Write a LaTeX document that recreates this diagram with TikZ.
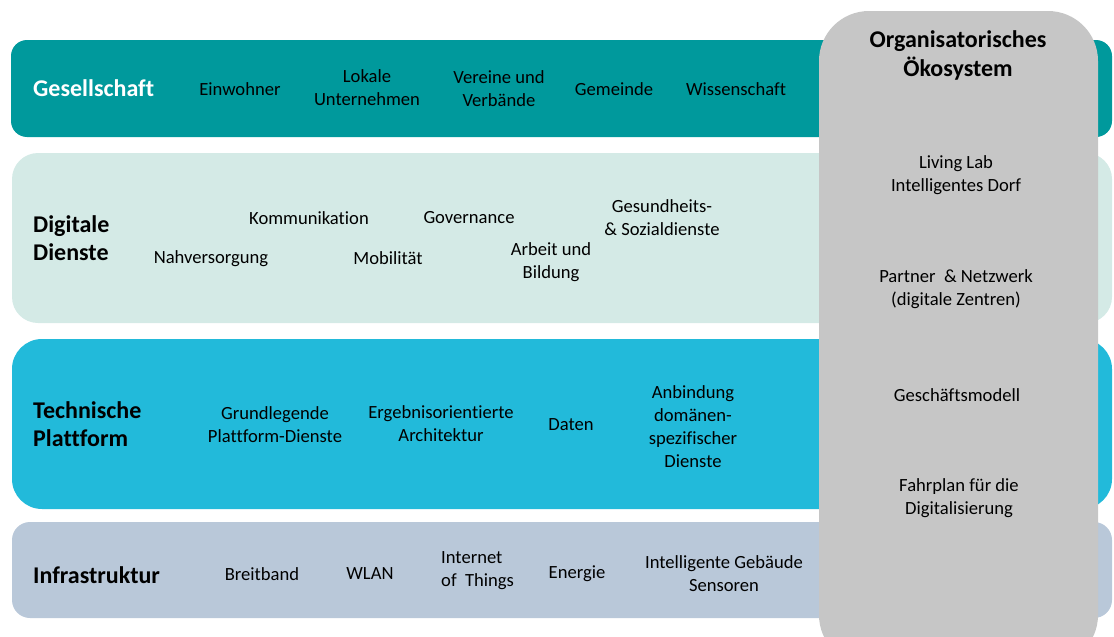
\documentclass[tikz,border=0pt]{standalone}
\usepackage{fontspec}
\setmainfont[Ligatures=NoCommon]{Carlito}
\definecolor{gesC}{HTML}{00999C}
\definecolor{digC}{HTML}{D4EAE6}
\definecolor{tecC}{HTML}{22BADA}
\definecolor{infC}{HTML}{B9C8D9}
\definecolor{orgC}{HTML}{C6C6C6}
\begin{document}
\begin{tikzpicture}[x=1pt,y=-1pt,
  band/.style={rounded corners=#1},
  item/.style={inner sep=0pt,align=center,font=\fontsize{18.6}{23}\selectfont,text=black},
  head/.style={inner sep=0pt,anchor=west,align=left,font=\fontsize{24}{28.5}\selectfont\bfseries},
]
\useasboundingbox (0,0) rectangle (1114,637);
\clip (0,0) rectangle (1114,637);
% bands
\fill[gesC,band=16] (11,40) rectangle (1112,137);
\fill[digC,band=26] (12,153) rectangle (1112,323);
\fill[tecC,band=30] (12,339) rectangle (1112,509);
\fill[infC,band=18] (12,522) rectangle (1112,618);
% organisational panel
\fill[orgC,rounded corners=50] (819,11) rectangle (1098,665);

% Gesellschaft
\node[head,text=white] (h1) at (33,88) {Gesellschaft};
\node[item] (g1) at (240,89) {Einwohner};
\node[item] (g2) at (367,88) {Lokale\\Unternehmen};
\node[item] (g3) at (499,88.5) {Vereine und\\Verbände};
\node[item] (g4) at (614,89) {Gemeinde};
\node[item] (g5) at (736,89) {Wissenschaft};

% Digitale Dienste
\node[head] (h2) at (33,238) {Digitale\\Dienste};
\node[item] (d1) at (309,218) {Kommunikation};
\node[item] (d2) at (469,218) {Governance};
\node[item] (d3) at (662,217.5) {Gesundheits-\\\&\ Sozialdienste};
\node[item] (d4) at (211,258.5) {Nahversorgung};
\node[item] (d5) at (388,258) {Mobilität};
\node[item] (d6) at (551,262.5) {Arbeit und\\Bildung};

% Technische Plattform
\node[head] (h3) at (33,424) {Technische\\Plattform};
\node[item] (t1) at (275,424.5) {Grundlegende\\Plattform-Dienste};
\node[item] (t2) at (441,423.5) {Ergebnisorientierte\\Architektur};
\node[item] (t3) at (571,425) {Daten};
\node[item] (t4) at (693,426.5) {Anbindung\\domänen-\\spezifischer\\Dienste};

% Infrastruktur
\node[head] (h4) at (33,575) {Infrastruktur};
\node[item] (i1) at (262,574) {Breitband};
\node[item] (i2) at (370,574) {WLAN};
\node[item,anchor=west,align=left] (i3) at (441,570.5) {Internet\\of\ \ Things};
\node[item] (i4) at (577,574) {Energie};
\node[item] (i5) at (724,573.5) {Intelligente Gebäude\\Sensoren};

% Organisatorisches Ökosystem
\node[inner sep=0pt,align=center,font=\fontsize{24}{29}\selectfont\bfseries] (o0) at (958,55.5) {Organisatorisches\\Ökosystem};
\node[item] (o1) at (956,175.5) {Living Lab\\Intelligentes Dorf};
\node[item] (o2) at (956,289.5) {Partner\ \ \& Netzwerk\\(digitale Zentren)};
\node[item] (o3) at (957,395) {Geschäftsmodell};
\node[item] (o4) at (959,498.5) {Fahrplan für die\\Digitalisierung};
\end{tikzpicture}
\end{document}
